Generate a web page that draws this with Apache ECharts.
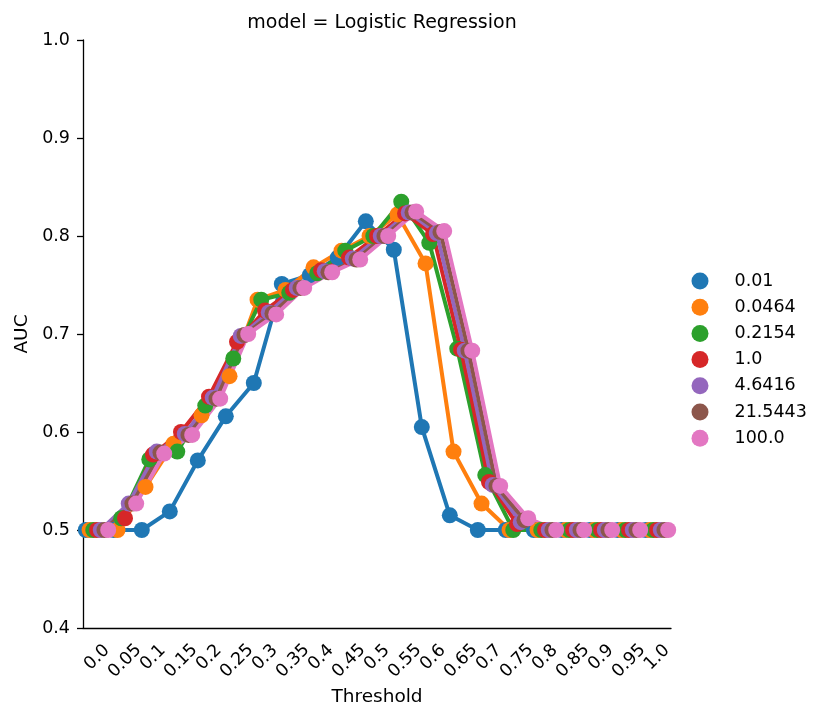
<!DOCTYPE html>
<html>
<head>
<meta charset="utf-8">
<script src="https://cdn.jsdelivr.net/npm/echarts@6/dist/echarts.min.js"></script>
<style>
  html, body { margin: 0; padding: 0; background: #fff; }
  #chart { width: 830px; height: 723px; }
</style>
</head>
<body>
<div id="chart"></div>
<script>
// tick labels along the x axis (categorical thresholds)
const thresholds = ['0.0', '0.05', '0.1', '0.15', '0.2', '0.25', '0.3', '0.35', '0.4', '0.45', '0.5',
  '0.55', '0.6', '0.65', '0.7', '0.75', '0.8', '0.85', '0.9', '0.95', '1.0']

// hue levels (regularisation C)
const hues = ['0.01', '0.0464', '0.2154', '1.0', '4.6416', '21.5443', '100.0']
const colors = ['#1f77b4', '#ff7f0e', '#2ca02c', '#d62728', '#9467bd', '#8c564b', '#e377c2']

// AUC per threshold, one array per hue
const auc001 = [0.5, 0.5, 0.5, 0.519, 0.571, 0.616, 0.65, 0.751, 0.76, 0.778, 0.815, 0.786, 0.605, 0.515, 0.5, 0.5, 0.5, 0.5, 0.5, 0.5, 0.5]
const auc00464 = [0.5, 0.5, 0.544, 0.588, 0.617, 0.657, 0.735, 0.745, 0.768, 0.785, 0.8, 0.822, 0.772, 0.58, 0.527, 0.5, 0.5, 0.5, 0.5, 0.5, 0.5]
const auc02154 = [0.5, 0.512, 0.572, 0.58, 0.627, 0.675, 0.735, 0.742, 0.762, 0.785, 0.8, 0.835, 0.793, 0.685, 0.556, 0.5, 0.5, 0.5, 0.5, 0.5, 0.5]
const auc1 = [0.5, 0.512, 0.577, 0.6, 0.636, 0.692, 0.724, 0.745, 0.765, 0.778, 0.8, 0.823, 0.802, 0.684, 0.549, 0.506, 0.5, 0.5, 0.5, 0.5, 0.5]
const auc46416 = [0.5, 0.527, 0.58, 0.598, 0.635, 0.698, 0.722, 0.747, 0.764, 0.777, 0.8, 0.824, 0.803, 0.683, 0.546, 0.508, 0.5, 0.5, 0.5, 0.5, 0.5]
const auc215443 = [0.5, 0.527, 0.579, 0.597, 0.634, 0.699, 0.721, 0.747, 0.763, 0.776, 0.8, 0.824, 0.804, 0.683, 0.545, 0.51, 0.5, 0.5, 0.5, 0.5, 0.5]
const auc100 = [0.5, 0.527, 0.578, 0.597, 0.634, 0.7, 0.72, 0.747, 0.763, 0.776, 0.8, 0.825, 0.805, 0.683, 0.545, 0.512, 0.5, 0.5, 0.5, 0.5, 0.5]

const values = [auc001, auc00464, auc02154, auc1, auc46416, auc215443, auc100]

// seaborn-like dodge: hues spread over 0.8 of a category
const dodge = 0.8
const offsetOf = h => -dodge / 2 + h * dodge / (hues.length - 1)

const font = 'DejaVu Sans'
const tickFont = 17.5

const series = hues.map((name, h) => ({
  name,
  type: 'line',
  xAxisIndex: 2,
  data: values[h].map((v, i) => [i + offsetOf(h), v]),
  symbol: 'circle',
  symbolSize: 16,
  showSymbol: true,
  lineStyle: { width: 4, color: colors[h] },
  itemStyle: { color: colors[h] },
  emphasis: { disabled: true }
}))

// rotated tick labels, centred under the tick like matplotlib;
// short and long labels sit at slightly different depths
const tickLabel = (margin, even) => ({
  interval: (idx) => (idx % 2 === 0) === even,
  rotate: 45,
  align: 'center',
  verticalAlign: 'middle',
  margin,
  fontFamily: font,
  fontSize: tickFont,
  color: '#000'
})

const chart = echarts.init(document.getElementById('chart'))
chart.setOption({
  animation: false,
  backgroundColor: '#fff',
  title: {
    text: 'model = Logistic Regression',
    left: 377,
    textAlign: 'center',
    top: 9,
    textStyle: { fontFamily: font, fontSize: 19, fontWeight: 'normal', color: '#000' }
  },
  legend: {
    orient: 'vertical',
    left: 686.5,
    top: 267,
    icon: 'circle',
    itemWidth: 17,
    itemHeight: 17,
    itemGap: 8.2,
    data: hues,
    textStyle: { fontFamily: font, fontSize: tickFont, color: '#000', padding: [0, 0, 0, 21] }
  },
  grid: { left: 83, right: 159, top: 40, bottom: 95, containLabel: false, outerBoundsMode: 'none' },
  xAxis: [
    {
      type: 'category',
      data: thresholds,
      boundaryGap: true,
      name: 'Threshold',
      nameLocation: 'middle',
      nameGap: 60,
      nameMoveOverlap: false,
      nameTextStyle: { fontFamily: font, fontSize: 18.5, color: '#000' },
      axisLine: { onZero: false, lineStyle: { color: '#000', width: 1.3 } },
      axisTick: { alignWithLabel: true, interval: 0, length: 6, lineStyle: { color: '#000', width: 1.3 } },
      axisLabel: tickLabel(29.5, true),
      splitLine: { show: false }
    },
    {
      type: 'category',
      data: thresholds,
      boundaryGap: true,
      position: 'bottom',
      axisLine: { show: false, onZero: false },
      axisTick: { show: false },
      axisLabel: tickLabel(33, false),
      splitLine: { show: false }
    },
    {
      type: 'value',
      min: -0.5,
      max: 20.5,
      show: false
    }
  ],
  yAxis: {
    type: 'value',
    min: 0.4,
    max: 1.0,
    interval: 0.1,
    name: 'AUC',
    nameLocation: 'middle',
    nameGap: 51,
    nameMoveOverlap: false,
    nameTextStyle: { fontFamily: font, fontSize: 18.5, color: '#000' },
    axisLine: { show: true, onZero: false, lineStyle: { color: '#000', width: 1.3 } },
    axisTick: { show: true, length: 6, lineStyle: { color: '#000', width: 1.3 } },
    axisLabel: {
      margin: 13,
      fontFamily: font,
      fontSize: tickFont,
      color: '#000',
      formatter: v => v.toFixed(1)
    },
    splitLine: { show: false }
  },
  series
})
</script>
</body>
</html>
